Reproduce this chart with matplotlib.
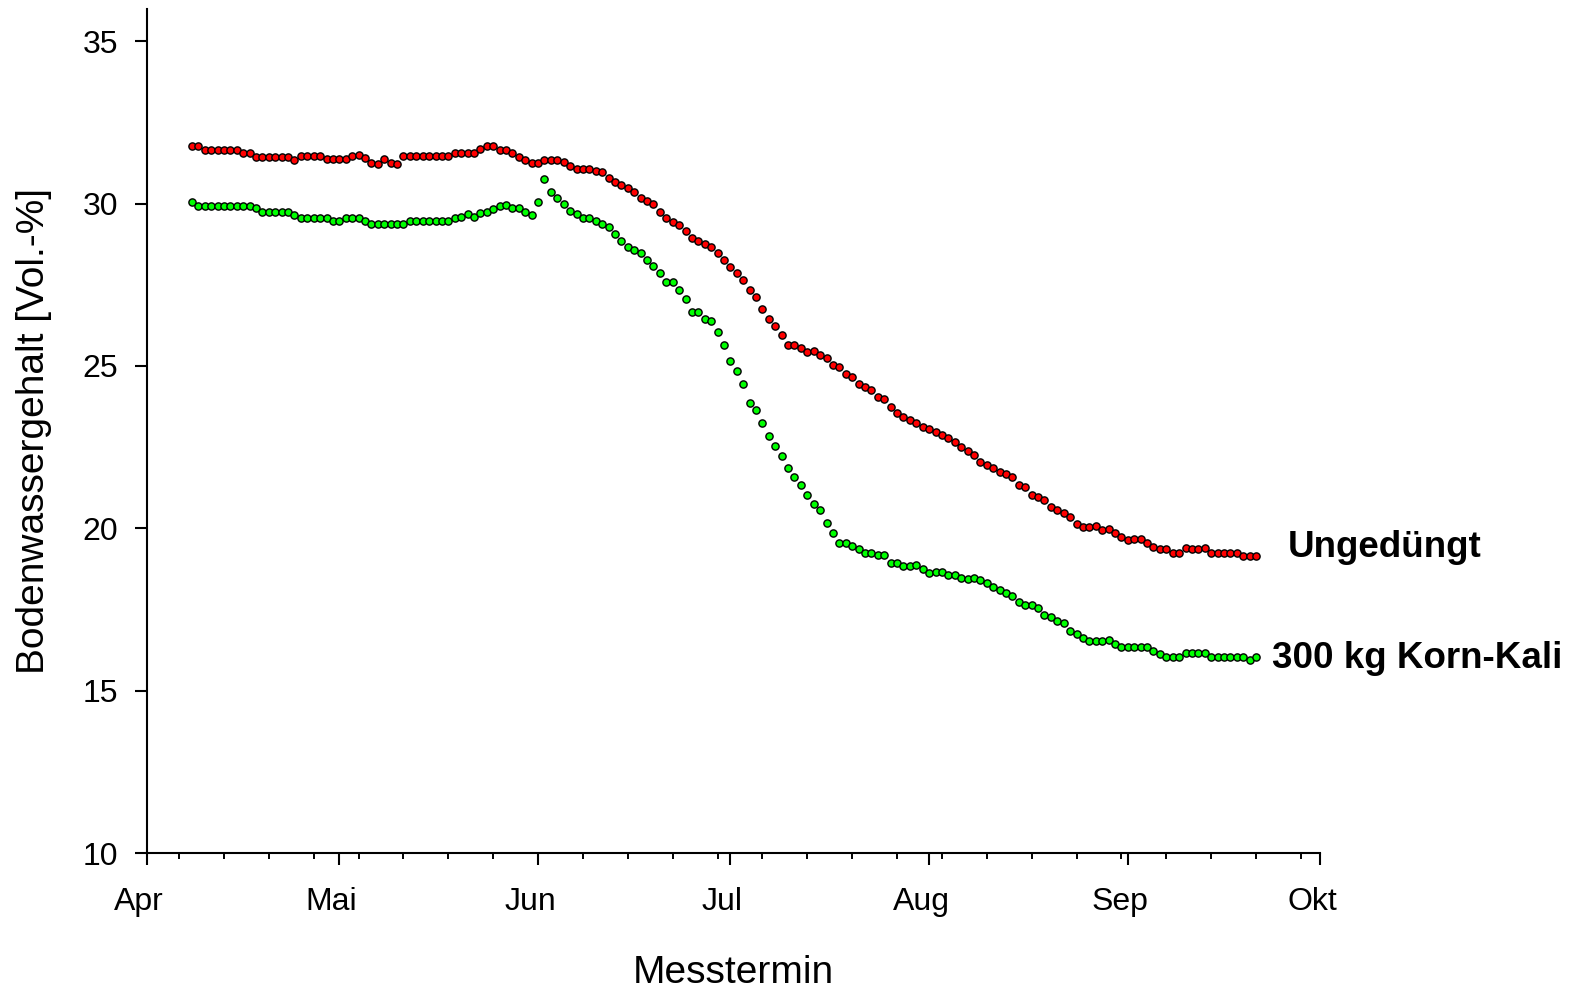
import numpy as np
import pandas as pd
import matplotlib
matplotlib.use('Agg')
import matplotlib.pyplot as plt
import matplotlib.dates as mdates
import matplotlib.ticker as mticker
from matplotlib.transforms import ScaledTranslation

plt.rcParams['font.family'] = ['Liberation Sans', 'DejaVu Sans']

# Messwerte, taeglich ab 8. April
start_datum = '2012-04-08'

ungeduengt = [
    31.78, 31.78, 31.65, 31.65, 31.65, 31.65, 31.65, 31.65, 31.57, 31.55,
    31.45, 31.45, 31.45, 31.45, 31.45, 31.45, 31.34, 31.47, 31.47, 31.47,
    31.47, 31.37, 31.37, 31.37, 31.37, 31.47, 31.50, 31.40, 31.26, 31.22,
    31.37, 31.24, 31.22, 31.47, 31.47, 31.47, 31.47, 31.47, 31.47, 31.47,
    31.47, 31.57, 31.57, 31.57, 31.57, 31.67, 31.78, 31.78, 31.65, 31.64,
    31.55, 31.45, 31.34, 31.24, 31.24, 31.34, 31.34, 31.34, 31.27, 31.17,
    31.07, 31.07, 31.07, 31.00, 30.97, 30.78, 30.68, 30.57, 30.47, 30.37,
    30.18, 30.08, 29.98, 29.75, 29.56, 29.44, 29.34, 29.15, 28.94, 28.84,
    28.77, 28.65, 28.47, 28.26, 28.05, 27.85, 27.65, 27.34, 27.13, 26.74,
    26.45, 26.24, 25.94, 25.65, 25.65, 25.54, 25.44, 25.47, 25.34, 25.24,
    25.03, 24.96, 24.75, 24.65, 24.45, 24.34, 24.26, 24.05, 23.97, 23.75,
    23.56, 23.44, 23.34, 23.25, 23.13, 23.05, 22.97, 22.87, 22.77, 22.67,
    22.49, 22.38, 22.26, 22.05, 21.95, 21.85, 21.75, 21.68, 21.57, 21.34,
    21.26, 21.03, 20.96, 20.87, 20.65, 20.55, 20.46, 20.34, 20.13, 20.05,
    20.05, 20.07, 19.95, 19.97, 19.85, 19.74, 19.64, 19.66, 19.66, 19.56,
    19.44, 19.35, 19.35, 19.23, 19.23, 19.38, 19.35, 19.35, 19.38, 19.25,
    19.25, 19.25, 19.25, 19.25, 19.15, 19.15, 19.15,
]

korn_kali = [
    30.05, 29.94, 29.94, 29.94, 29.94, 29.94, 29.94, 29.94, 29.94, 29.94,
    29.85, 29.75, 29.75, 29.75, 29.75, 29.75, 29.65, 29.57, 29.57, 29.57,
    29.57, 29.57, 29.46, 29.48, 29.57, 29.57, 29.57, 29.47, 29.38, 29.36,
    29.36, 29.36, 29.36, 29.36, 29.45, 29.45, 29.45, 29.45, 29.45, 29.45,
    29.45, 29.55, 29.60, 29.68, 29.58, 29.70, 29.75, 29.82, 29.94, 29.95,
    29.87, 29.86, 29.75, 29.65, 30.06, 30.76, 30.37, 30.18, 29.98, 29.77,
    29.67, 29.57, 29.57, 29.47, 29.36, 29.28, 29.06, 28.85, 28.66, 28.56,
    28.48, 28.27, 28.07, 27.86, 27.58, 27.60, 27.34, 27.06, 26.66, 26.67,
    26.45, 26.37, 26.06, 25.65, 25.16, 24.85, 24.45, 23.87, 23.64, 23.25,
    22.84, 22.54, 22.23, 21.85, 21.57, 21.34, 21.03, 20.75, 20.55, 20.15,
    19.85, 19.54, 19.54, 19.46, 19.35, 19.25, 19.25, 19.18, 19.18, 18.94,
    18.94, 18.84, 18.84, 18.87, 18.74, 18.63, 18.66, 18.66, 18.56, 18.56,
    18.46, 18.45, 18.47, 18.40, 18.31, 18.20, 18.10, 18.00, 17.92, 17.74,
    17.64, 17.64, 17.54, 17.33, 17.26, 17.16, 17.08, 16.85, 16.75, 16.61,
    16.54, 16.54, 16.54, 16.56, 16.44, 16.36, 16.36, 16.36, 16.36, 16.36,
    16.23, 16.13, 16.05, 16.05, 16.05, 16.17, 16.17, 16.17, 16.17, 16.05,
    16.05, 16.05, 16.05, 16.05, 16.03, 15.93, 16.05,
]

monate = ['Apr', 'Mai', 'Jun', 'Jul', 'Aug', 'Sep', 'Okt']
y_ticks = [10, 15, 20, 25, 30, 35]

datum = pd.date_range(start_datum, periods=len(ungeduengt), freq='D')
monat_anfang = pd.date_range('2012-04-01', '2012-10-01', freq='MS')

fig = plt.figure(figsize=(15.81, 9.88), dpi=100)
ax = fig.add_axes([0.093, 0.1366, 0.742, 0.8545])

ax.plot(datum, ungeduengt, linestyle='none', marker='o', markersize=5.2,
        markerfacecolor='#ff0000', markeredgecolor='black', markeredgewidth=1.0)
ax.plot(datum, korn_kali, linestyle='none', marker='o', markersize=5.2,
        markerfacecolor='#00ff00', markeredgecolor='black', markeredgewidth=1.0)

ax.set_xlim(monat_anfang[0], monat_anfang[-1])
ax.set_ylim(10, 36)

ax.xaxis.set_major_locator(mticker.FixedLocator(mdates.date2num(monat_anfang)))
ax.xaxis.set_major_formatter(mticker.FixedFormatter(monate))
ax.xaxis.set_minor_locator(mdates.WeekdayLocator(byweekday=mdates.FR))
ax.set_yticks(y_ticks)
ax.set_yticklabels([str(v) for v in y_ticks])

for s in ['top', 'right']:
    ax.spines[s].set_visible(False)
for s in ['left', 'bottom']:
    ax.spines[s].set_linewidth(1.5)

ax.tick_params(axis='both', which='major', direction='out', length=8.6,
               width=1.5, labelsize=23)
ax.tick_params(axis='x', which='major', pad=16)
ax.tick_params(axis='y', which='major', pad=12)
ax.tick_params(axis='x', which='minor', direction='out', length=4.5, width=1.4)
ax.tick_params(axis='y', which='minor', left=False)

# Monatsnamen leicht nach links versetzt wie im Original
versatz = ScaledTranslation(-8 / 100, 0, fig.dpi_scale_trans)
for lbl in ax.get_xticklabels():
    lbl.set_transform(lbl.get_transform() + versatz)

ax.set_xlabel('Messtermin', fontsize=28, labelpad=27)
ax.set_ylabel('Bodenwassergehalt [Vol.-%]', fontsize=28, labelpad=22)

# Beschriftung der Kurven
ax.text(pd.Timestamp('2012-09-26 00:00'), 19.4, 'Ungedüngt', fontsize=26.5,
        fontweight='bold', va='center', ha='left', clip_on=False)
ax.text(pd.Timestamp('2012-09-23 12:00'), 16.0, '300 kg Korn-Kali', fontsize=26.5,
        fontweight='bold', va='center', ha='left', clip_on=False)

fig.savefig('out.png', dpi=100)
